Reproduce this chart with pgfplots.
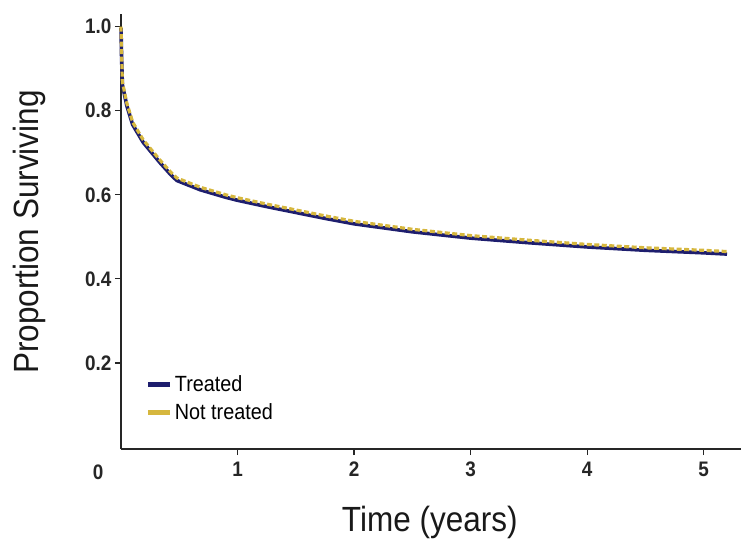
\documentclass[border=0pt]{standalone}
\usepackage{pgfplots}
\pgfplotsset{compat=1.18}
\usepackage{fontspec}
\setmainfont[FakeStretch=0.9]{Liberation Sans}
\definecolor{navy}{HTML}{1E1E6E}
\definecolor{gold}{HTML}{D6B73E}
\begin{document}
\begin{tikzpicture}
\path[use as bounding box] (-121pt,-101pt) rectangle (620pt,447pt);
\begin{axis}[
  at={(0,0)}, anchor=origin,
  scale only axis, clip=false,
  width=620pt, height=435pt,
  xmin=0, xmax=5.32,
  ymin=-0.005, ymax=1.03,
  axis x line=bottom, axis y line=left,
  axis line style={-, line width=1.4pt, black!85},
  xtick={1,2,3,4,5},
  ytick={0.2,0.4,0.6,0.8,1.0},
  tick align=outside,
  major tick length=6pt,
  tick style={line width=1.2pt, black!85},
  /pgf/number format/assume math mode=true,
  yticklabel style={/pgf/number format/.cd, fixed, fixed zerofill, precision=1},
  ticklabel style={font=\fontsize{21}{24}\selectfont\bfseries, text=black!85},
  xticklabel style={yshift=-3pt},
  xlabel={Time (years)},
  ylabel={Proportion Surviving},
  label style={font=\fontsize{35}{40}\selectfont, text=black!90},
  xlabel style={at={(axis description cs:0.498,-0.168)}, anchor=center},
  ylabel style={at={(axis description cs:-0.147,0.499)}, anchor=center},
  legend style={at={(axis description cs:0.035,0.178)}, anchor=north west, draw=none, fill=none,
    font=\fontsize{22}{26}\selectfont, row sep=6pt},
  legend cell align=left,
  legend image code/.code={\draw[line width=5pt, solid] (0pt,0pt) -- (22pt,0pt);},
]
\addplot[navy, line width=3.6pt, line join=round] coordinates {
(0,0.997) (0.005,0.927) (0.012,0.862) (0.05,0.812) (0.1,0.767) (0.19,0.725)
(0.33,0.678) (0.43,0.647) (0.48,0.634) (0.68,0.612) (0.9,0.594) (1.0,0.587)
(1.25,0.572) (1.5,0.558) (1.75,0.544) (2.0,0.531) (2.5,0.512) (3.0,0.497)
(3.5,0.486) (4.0,0.476) (4.5,0.468) (5.0,0.462) (5.2,0.459)};
\addlegendentry{Treated}
\addplot[gold, line width=3.2pt, dash pattern=on 5pt off 2.5pt, line join=round] coordinates {
(0,1.0) (0.005,0.932) (0.012,0.868) (0.05,0.818) (0.1,0.773) (0.19,0.731)
(0.33,0.684) (0.43,0.653) (0.48,0.640) (0.68,0.618) (0.9,0.600) (1.0,0.593)
(1.25,0.578) (1.5,0.564) (1.75,0.550) (2.0,0.537) (2.5,0.518) (3.0,0.503)
(3.5,0.492) (4.0,0.482) (4.5,0.474) (5.0,0.468) (5.2,0.465)};
\addlegendentry{Not treated}
\node[font=\fontsize{21}{24}\selectfont\bfseries, text=black!85] at (axis description cs:-0.037,-0.053) {0};
\end{axis}
\end{tikzpicture}
\end{document}
